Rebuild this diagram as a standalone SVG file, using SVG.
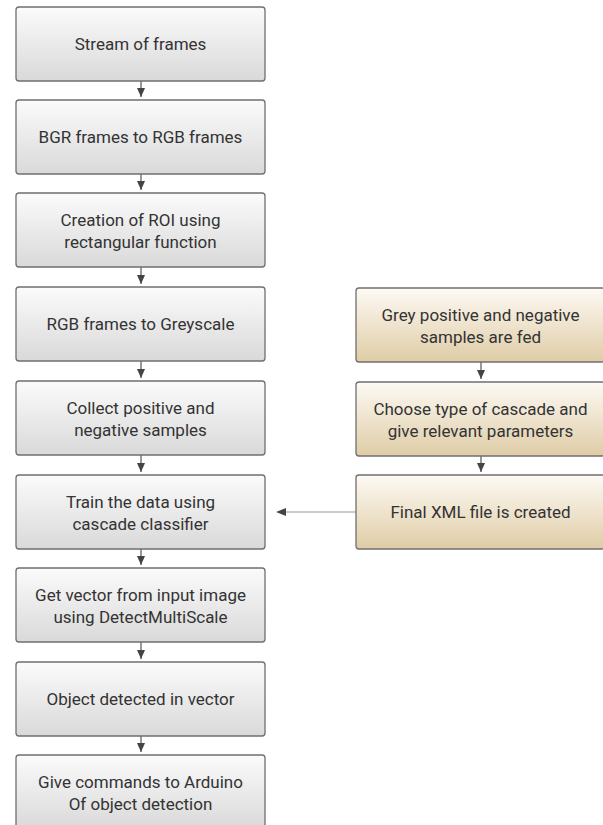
<svg xmlns="http://www.w3.org/2000/svg" width="603" height="825" viewBox="0 0 603 825">
<defs>
<linearGradient id="gGrey" x1="0" y1="0" x2="0" y2="1">
<stop offset="0" stop-color="#fbfbfb"/>
<stop offset="1" stop-color="#d9d9d9"/>
</linearGradient>
<linearGradient id="gTan" x1="0" y1="0" x2="0" y2="1">
<stop offset="0" stop-color="#fdfaf4"/>
<stop offset="1" stop-color="#dfcca6"/>
</linearGradient>
<marker id="ah" markerWidth="9" markerHeight="8" refX="9" refY="4" orient="auto" markerUnits="userSpaceOnUse" viewBox="0 0 9 8">
<path d="M0,0 L9,4 L0,8 Z" fill="#444"/>
</marker>
</defs>
<style>
.g rect{fill:url(#gGrey);stroke:#6f6f6f;stroke-width:1.3}
.t rect{fill:url(#gTan);stroke:#6f6f6f;stroke-width:1.3}
text{font-family:Roboto,"Liberation Sans",sans-serif;font-size:17px;fill:#333;text-anchor:middle}
.c line{stroke:#555;stroke-width:1.2}
</style>
<rect width="603" height="825" fill="#fff"/>
<g class="c" id="connectors">
<line x1="141" y1="81" x2="141" y2="97" marker-end="url(#ah)"/>
<line x1="141" y1="174" x2="141" y2="190" marker-end="url(#ah)"/>
<line x1="141" y1="267" x2="141" y2="284" marker-end="url(#ah)"/>
<line x1="141" y1="361" x2="141" y2="378" marker-end="url(#ah)"/>
<line x1="141" y1="455" x2="141" y2="472" marker-end="url(#ah)"/>
<line x1="141" y1="549" x2="141" y2="565" marker-end="url(#ah)"/>
<line x1="141" y1="642" x2="141" y2="659" marker-end="url(#ah)"/>
<line x1="141" y1="736" x2="141" y2="752" marker-end="url(#ah)"/>
<line x1="481" y1="362" x2="481" y2="379" marker-end="url(#ah)"/>
<line x1="481" y1="456" x2="481" y2="472" marker-end="url(#ah)"/>
<line x1="356" y1="512" x2="286" y2="512" style="stroke:#9a9a9a"/>
<path d="M286,508 L286,516 L276,512 Z" fill="#444"/>
</g>
<g id="n1" class="g"><rect x="16" y="7" width="249" height="74" rx="3"/><text x="140.5" y="50">Stream of frames</text></g>
<g id="n2" class="g"><rect x="16" y="100" width="249" height="74" rx="3"/><text x="140.5" y="143">BGR frames to RGB frames</text></g>
<g id="n3" class="g"><rect x="16" y="193" width="249" height="74" rx="3"/><text x="140.5" y="225.5">Creation of ROI using</text><text x="140.5" y="247.5">rectangular function</text></g>
<g id="n4" class="g"><rect x="16" y="287" width="249" height="74" rx="3"/><text x="140.5" y="330">RGB frames to Greyscale</text></g>
<g id="n5" class="g"><rect x="16" y="381" width="249" height="74" rx="3"/><text x="140.5" y="413.5">Collect positive and</text><text x="140.5" y="435.5">negative samples</text></g>
<g id="n6" class="g"><rect x="16" y="475" width="249" height="74" rx="3"/><text x="140.5" y="507.5">Train the data using</text><text x="140.5" y="529.5">cascade classifier</text></g>
<g id="n7" class="g"><rect x="16" y="568" width="249" height="74" rx="3"/><text x="140.5" y="600.5">Get vector from input image</text><text x="140.5" y="622.5">using DetectMultiScale</text></g>
<g id="n8" class="g"><rect x="16" y="662" width="249" height="74" rx="3"/><text x="140.5" y="705">Object detected in vector</text></g>
<g id="n9" class="g"><rect x="16" y="755" width="249" height="74" rx="3"/><text x="140.5" y="787.5">Give commands to Arduino</text><text x="140.5" y="809.5">Of object detection</text></g>
<g id="r1" class="t"><rect x="356" y="288" width="249" height="74" rx="3"/><text x="480.5" y="320.5">Grey positive and negative</text><text x="480.5" y="342.5">samples are fed</text></g>
<g id="r2" class="t"><rect x="356" y="382" width="249" height="74" rx="3"/><text x="480.5" y="414.5">Choose type of cascade and</text><text x="480.5" y="436.5">give relevant parameters</text></g>
<g id="r3" class="t"><rect x="356" y="475" width="249" height="74" rx="3"/><text x="480.5" y="518">Final XML file is created</text></g>
</svg>
